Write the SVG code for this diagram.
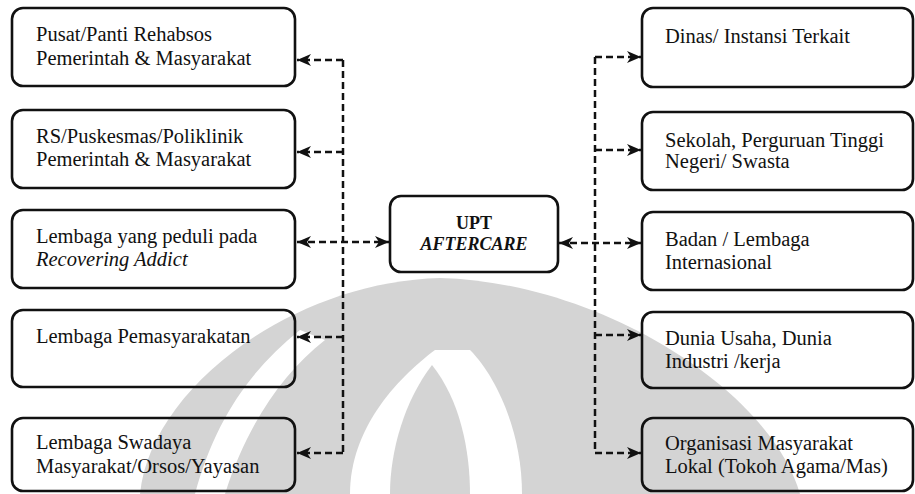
<svg xmlns="http://www.w3.org/2000/svg" width="915" height="494" viewBox="0 0 915 494">
<style>
.box{fill:none;stroke:#111;stroke-width:2.6}
.t{font-family:"Liberation Serif","Times New Roman",serif;font-size:20.5px;fill:#111}
.it{font-style:italic}
.c{font-family:"Liberation Serif","Times New Roman",serif;font-weight:bold;font-size:18px;fill:#111;text-anchor:middle}
.ln{fill:none;stroke:#111;stroke-width:2.5;stroke-dasharray:7 4}
.wm{fill:#d4d4d4}
.wh{fill:#ffffff}
</style>
<defs>
<marker id="ah" markerUnits="userSpaceOnUse" markerWidth="16" markerHeight="14" refX="14" refY="6" orient="auto-start-reverse">
<path d="M0,0 L14,6 L0,12 L4,6 Z" fill="#111"/>
</marker>
</defs>
<g id="watermark">
<path class="wm" d="M140,494 C150,390 290,282 440,278 C600,282 770,390 800,494 Z"/>
<path class="wh" d="M300,330 C250,370 215,420 195,494 L225,494 C245,430 280,375 325,340 Z"/>
<path class="wh" d="M435,350 C395,380 350,430 350,494 L522,494 C522,430 495,375 470,350 Z"/>
<path class="wm" d="M432,365 C405,400 390,450 390,494 L470,494 C470,450 460,400 432,365 Z"/>
</g>
<g id="connectors">
<path class="ln" d="M343,60 V453"/>
<path class="ln" d="M343,60 H297" marker-end="url(#ah)"/>
<path class="ln" d="M343,152 H297" marker-end="url(#ah)"/>
<path class="ln" d="M297,242 H389" marker-start="url(#ah)" marker-end="url(#ah)"/>
<path class="ln" d="M343,337 H297" marker-end="url(#ah)"/>
<path class="ln" d="M343,453 H297" marker-end="url(#ah)"/>
<path class="ln" d="M595,57 V453"/>
<path class="ln" d="M595,57 H641" marker-end="url(#ah)"/>
<path class="ln" d="M595,150 H641" marker-end="url(#ah)"/>
<path class="ln" d="M559,243 H641" marker-start="url(#ah)" marker-end="url(#ah)"/>
<path class="ln" d="M595,335 H641" marker-end="url(#ah)"/>
<path class="ln" d="M595,453 H641" marker-end="url(#ah)"/>
</g>
<g id="upt">
<rect class="box" x="390" y="196" width="168" height="76" rx="11"/>
<text class="c" x="474" y="229">UPT</text>
<text class="c it" x="474" y="250">AFTERCARE</text>
</g>
<g id="l1">
<rect class="box" x="12" y="8" width="283" height="78" rx="11"/>
<text class="t" x="36" y="41">Pusat/Panti Rehabsos</text>
<text class="t" x="36" y="65">Pemerintah &amp; Masyarakat</text>
</g>
<g id="l2">
<rect class="box" x="12" y="110" width="283" height="78" rx="11"/>
<text class="t" x="36" y="143">RS/Puskesmas/Poliklinik</text>
<text class="t" x="36" y="166">Pemerintah &amp; Masyarakat</text>
</g>
<g id="l3">
<rect class="box" x="12" y="210" width="283" height="78" rx="11"/>
<text class="t" x="36" y="243">Lembaga yang peduli pada</text>
<text class="t it" x="36" y="266">Recovering Addict</text>
</g>
<g id="l4">
<rect class="box" x="12" y="310" width="283" height="77" rx="11"/>
<text class="t" x="36" y="343">Lembaga Pemasyarakatan</text>
</g>
<g id="l5">
<rect class="box" x="12" y="418" width="283" height="73" rx="11"/>
<text class="t" x="36" y="449">Lembaga Swadaya</text>
<text class="t" x="36" y="473">Masyarakat/Orsos/Yayasan</text>
</g>
<g id="r1">
<rect class="box" x="642" y="8" width="271" height="79" rx="11"/>
<text class="t" x="665" y="43">Dinas/ Instansi Terkait</text>
</g>
<g id="r2">
<rect class="box" x="642" y="112" width="271" height="78" rx="11"/>
<text class="t" x="665" y="147">Sekolah, Perguruan Tinggi</text>
<text class="t" x="665" y="168">Negeri/ Swasta</text>
</g>
<g id="r3">
<rect class="box" x="642" y="212" width="271" height="78" rx="11"/>
<text class="t" x="665" y="246">Badan / Lembaga</text>
<text class="t" x="665" y="269">Internasional</text>
</g>
<g id="r4">
<rect class="box" x="642" y="312" width="271" height="76" rx="11"/>
<text class="t" x="665" y="345">Dunia Usaha, Dunia</text>
<text class="t" x="665" y="368">Industri /kerja</text>
</g>
<g id="r5">
<rect class="box" x="642" y="418" width="271" height="73" rx="11"/>
<text class="t" x="665" y="450">Organisasi Masyarakat</text>
<text class="t" x="665" y="473">Lokal (Tokoh Agama/Mas)</text>
</g>
</svg>
